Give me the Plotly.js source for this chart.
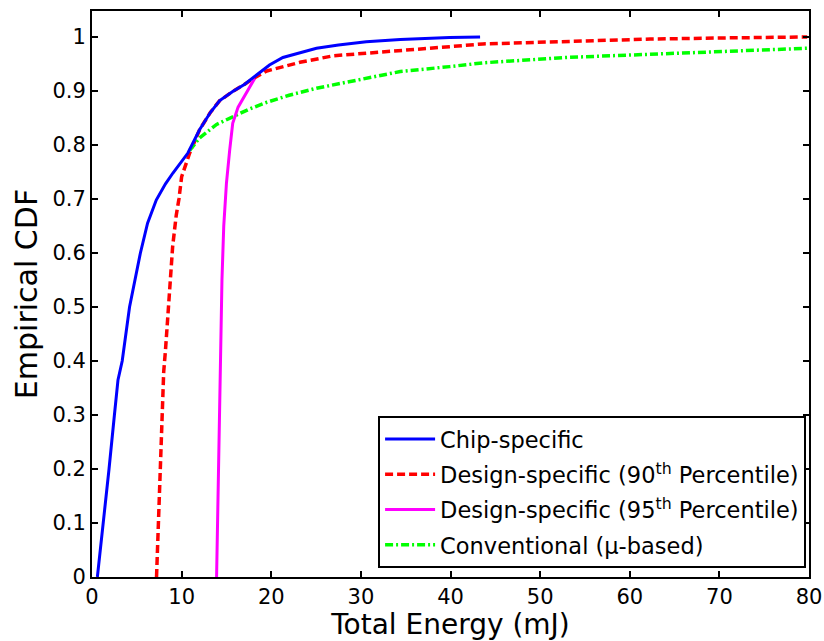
<!DOCTYPE html>
<html>
<head>
<meta charset="utf-8">
<script src="https://cdn.plot.ly/plotly-3.0.1.min.js"></script>
<style>html,body{margin:0;padding:0;background:#fff;}#chart{width:824px;height:641px;}</style>
</head>
<body>
<div id="chart"></div>
<script>
// Chip-specific
var chipX = [0.6, 1.28, 1.9, 2.5, 2.9, 3.37, 4.19, 5.4, 6.2, 7.17, 8.2, 9.03, 10.0, 10.7, 12.0, 13.2, 14.25, 15.7, 17.0, 18.35, 19.8, 21.3, 23.2, 25.05, 27.5, 30.6, 34.4, 39.9, 43.3];
var chipY = [0, 0.1, 0.2, 0.3, 0.365, 0.4, 0.5, 0.6, 0.655, 0.698, 0.728, 0.748, 0.77, 0.785, 0.828, 0.86, 0.882, 0.899, 0.912, 0.93, 0.948, 0.962, 0.97, 0.979, 0.985, 0.991, 0.995, 0.999, 1.0];
// Design-specific 90th
var d90X = [7.2, 7.4, 7.6, 7.8, 8.0, 8.2, 8.55, 8.85, 9.0, 9.4, 9.7, 10.0, 10.9, 12.0, 13.2, 14.25, 15.7, 17.0, 18.2, 19.5, 23.2, 26.9, 32.5, 39.9, 43.6, 51.1, 58.9, 62.3, 70, 79.8];
var d90Y = [0, 0.1, 0.2, 0.3, 0.38, 0.42, 0.5, 0.58, 0.612, 0.67, 0.7, 0.741, 0.785, 0.828, 0.86, 0.882, 0.899, 0.912, 0.925, 0.937, 0.953, 0.965, 0.973, 0.982, 0.987, 0.991, 0.994, 0.996, 0.998, 1.0];
// Design-specific 95th
var d95X = [13.9, 14.0, 14.1, 14.2, 14.25, 14.5, 14.7, 15.0, 15.36, 15.7, 16.3, 17.2, 18.15];
var d95Y = [0, 0.1, 0.2, 0.3, 0.38, 0.55, 0.65, 0.729, 0.79, 0.84, 0.87, 0.895, 0.923];
// Conventional
var convX = [10.9, 12.0, 13.9, 15.7, 17.5, 19.5, 22.0, 25.05, 30.6, 34.4, 39.9, 43.6, 53.0, 62.3, 70.0, 79.8];
var convY = [0.79, 0.813, 0.838, 0.852, 0.866, 0.879, 0.892, 0.905, 0.923, 0.936, 0.945, 0.952, 0.962, 0.968, 0.974, 0.979];

var names = ['Chip-specific', 'Design-specific (90<sup>th</sup> Percentile)', 'Design-specific (95<sup>th</sup> Percentile)', 'Conventional (μ-based)'];
var xTicks = [0, 10, 20, 30, 40, 50, 60, 70, 80];
var yTicks = [0, 0.1, 0.2, 0.3, 0.4, 0.5, 0.6, 0.7, 0.8, 0.9, 1];

var FONT = 'DejaVu Sans, Liberation Sans, Arial, sans-serif';

var traces = [
  {x: d90X, y: d90Y, name: names[1], legendgroup: 'b', legendrank: 2, mode: 'lines', line: {color: '#ff0000', width: 3.5, dash: '8px,4px'}},
  {x: convX, y: convY, name: names[3], legendgroup: 'd', legendrank: 4, mode: 'lines', line: {color: '#00ff00', width: 3.5, dash: '8px,3px,2px,3px'}},
  {x: d95X, y: d95Y, name: names[2], legendgroup: 'c', legendrank: 3, mode: 'lines', line: {color: '#ff00ff', width: 3}},
  {x: chipX, y: chipY, name: names[0], legendgroup: 'a', legendrank: 1, mode: 'lines', line: {color: '#0000ff', width: 3}}
];

var axisCommon = {
  showgrid: false, zeroline: false, showline: true, linecolor: '#000', linewidth: 2,
  mirror: 'ticks', ticks: 'inside', ticklen: 6, tickwidth: 2, tickcolor: '#000',
  tickfont: {family: FONT, size: 21, color: '#000'}
};

var layout = {
  width: 824, height: 641,
  margin: {l: 92, r: 15, t: 11, b: 64},
  paper_bgcolor: '#fff', plot_bgcolor: '#fff',
  showlegend: true,
  xaxis: Object.assign({}, axisCommon, {
    range: [0, 80], tickvals: xTicks, ticktext: xTicks.map(String),
    title: {text: 'Total Energy (mJ)', font: {family: FONT, size: 28, color: '#000'}, standoff: 2}
  }),
  yaxis: Object.assign({}, axisCommon, {
    range: [0, 1.048], tickvals: yTicks, ticktext: yTicks.map(String),
    title: {text: 'Empirical CDF', font: {family: FONT, size: 30, color: '#000'}, standoff: 6}
  }),
  legend: {
    x: 0.399, y: 0.016, xanchor: 'left', yanchor: 'bottom',
    bgcolor: '#fff', bordercolor: '#000', borderwidth: 2,
    font: {family: FONT, size: 22.5, color: '#000'},
    traceorder: 'grouped', tracegroupgap: 3, itemwidth: 50
  }
};

Plotly.newPlot('chart', traces, layout, {displayModeBar: false, staticPlot: true});
</script>
</body>
</html>
